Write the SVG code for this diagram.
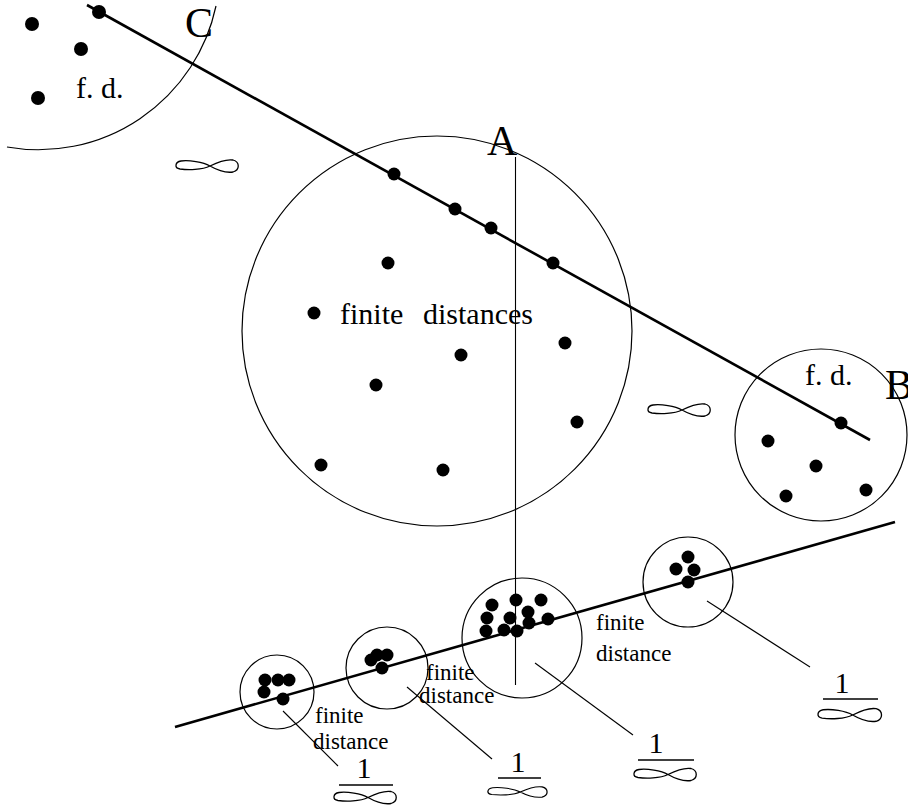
<svg xmlns="http://www.w3.org/2000/svg" xmlns:xlink="http://www.w3.org/1999/xlink" width="908" height="811" viewBox="0 0 908 811">
<style>
.ring{fill:none;stroke:#000;stroke-width:1.2}
.thick{fill:none;stroke:#000;stroke-width:2.6}
.thin{fill:none;stroke:#000;stroke-width:1.1}
.inf{fill:none;stroke:#000;stroke-width:1.3}
.dot{fill:#000}
.big{font-family:"Liberation Serif","Times New Roman",serif;font-size:42px;fill:#000}
.mid{font-family:"Liberation Serif","Times New Roman",serif;font-size:30px;fill:#000}
.sm{font-family:"Liberation Serif","Times New Roman",serif;font-size:23px;fill:#000}
.bar{stroke:#000;stroke-width:1.3}
</style>
<defs>
<path id="inf" class="inf" d="M35,0 C28,-4 14,-6 6,-5 C0,-4 -1,2 5,3 C13,4 27,4 35,0 C43,-4 52,-7 58,-6 C65,-4 65,4 58,6 C51,7 42,4 35,0 Z"/>
</defs>
<rect width="908" height="811" fill="#fff"/>

<g id="connectors">
<line class="thick" x1="87" y1="5" x2="870" y2="440"/>
<line class="thick" x1="175" y1="727" x2="895" y2="522"/>
<line class="thin" x1="515.5" y1="157" x2="515.5" y2="685"/>
<line class="thin" x1="283" y1="711" x2="338" y2="766"/>
<line class="thin" x1="407" y1="687" x2="492" y2="759"/>
<line class="thin" x1="535" y1="663" x2="633" y2="735"/>
<line class="thin" x1="707" y1="601" x2="810" y2="667"/>
</g>

<g id="region-C">
<path class="ring" d="M7,147 A181.7,181.7 0 0 0 216,6"/>
<circle class="dot" cx="32" cy="24" r="7"/>
<circle class="dot" cx="81" cy="49" r="7"/>
<circle class="dot" cx="38" cy="98" r="7"/>
<circle class="dot" cx="99" cy="12" r="7"/>
<text class="mid" x="76" y="98">f. d.</text>
<text class="big" x="185" y="37">C</text>
</g>

<g id="region-A">
<circle class="ring" cx="437" cy="331" r="195"/>
<circle class="dot" cx="394" cy="174" r="6.5"/>
<circle class="dot" cx="455" cy="209" r="6.5"/>
<circle class="dot" cx="491" cy="228" r="6.5"/>
<circle class="dot" cx="553" cy="263" r="6.5"/>
<circle class="dot" cx="388" cy="263" r="6.5"/>
<circle class="dot" cx="314" cy="313" r="6.5"/>
<circle class="dot" cx="461" cy="355" r="6.5"/>
<circle class="dot" cx="565" cy="343" r="6.5"/>
<circle class="dot" cx="376" cy="385" r="6.5"/>
<circle class="dot" cx="577" cy="422" r="6.5"/>
<circle class="dot" cx="321" cy="465" r="6.5"/>
<circle class="dot" cx="443" cy="470" r="6.5"/>
<text class="mid" x="340" y="324">finite<tspan x="423">distances</tspan></text>
<text class="big" x="487" y="155">A</text>
</g>

<g id="region-B">
<circle class="ring" cx="821" cy="435" r="86"/>
<circle class="dot" cx="841" cy="423" r="6.5"/>
<circle class="dot" cx="768" cy="441" r="6.5"/>
<circle class="dot" cx="816" cy="466" r="6.5"/>
<circle class="dot" cx="786" cy="496" r="6.5"/>
<circle class="dot" cx="866" cy="490" r="6.5"/>
<text class="mid" x="805" y="385">f. d.</text>
<text class="big" x="885" y="399">B</text>
</g>

<g id="infinity-1"><use xlink:href="#inf" transform="translate(175,166)"/></g>
<g id="infinity-2"><use xlink:href="#inf" transform="translate(647,410)"/></g>

<g id="cluster-1">
<circle class="ring" cx="277" cy="692" r="37"/>
<circle class="dot" cx="265" cy="680" r="6.5"/>
<circle class="dot" cx="278" cy="680" r="6.5"/>
<circle class="dot" cx="289" cy="680" r="6.5"/>
<circle class="dot" cx="264" cy="692" r="6.5"/>
<circle class="dot" cx="283" cy="699" r="6.5"/>
</g>
<g id="cluster-2">
<circle class="ring" cx="387" cy="668" r="41"/>
<circle class="dot" cx="371" cy="660" r="6.5"/>
<circle class="dot" cx="377" cy="655" r="6.5"/>
<circle class="dot" cx="387" cy="655" r="6.5"/>
<circle class="dot" cx="382" cy="668" r="6.5"/>
</g>
<g id="cluster-3">
<circle class="ring" cx="522" cy="638" r="60"/>
<circle class="dot" cx="492" cy="605" r="6.5"/>
<circle class="dot" cx="516" cy="600" r="6.5"/>
<circle class="dot" cx="541" cy="600" r="6.5"/>
<circle class="dot" cx="487" cy="618" r="6.5"/>
<circle class="dot" cx="510" cy="618" r="6.5"/>
<circle class="dot" cx="528" cy="612" r="6.5"/>
<circle class="dot" cx="548" cy="619" r="6.5"/>
<circle class="dot" cx="486" cy="631" r="6.5"/>
<circle class="dot" cx="504" cy="630" r="6.5"/>
<circle class="dot" cx="517" cy="631" r="6.5"/>
<circle class="dot" cx="529" cy="623" r="6.5"/>
</g>
<g id="cluster-4">
<circle class="ring" cx="688" cy="582" r="45"/>
<circle class="dot" cx="688" cy="557" r="6.5"/>
<circle class="dot" cx="676" cy="569" r="6.5"/>
<circle class="dot" cx="694" cy="570" r="6.5"/>
<circle class="dot" cx="688" cy="582" r="6.5"/>
</g>

<g id="label-finite-1">
<text class="sm" x="315" y="723">finite</text>
<text class="sm" x="313" y="749">distance</text>
</g>
<g id="label-finite-2">
<text class="sm" x="426" y="680">finite</text>
<text class="sm" x="419" y="703">distance</text>
</g>
<g id="label-finite-3">
<text class="sm" x="596" y="630">finite</text>
<text class="sm" x="596" y="661">distance</text>
</g>

<g id="fraction-1">
<text class="mid" x="364" y="778" text-anchor="middle">1</text>
<line class="bar" x1="339" y1="785" x2="393" y2="785"/>
<use xlink:href="#inf" transform="translate(333,797.5)"/>
</g>
<g id="fraction-2">
<text class="mid" x="518" y="772" text-anchor="middle">1</text>
<line class="bar" x1="498" y1="778" x2="541" y2="778"/>
<use xlink:href="#inf" transform="translate(487,792) scale(0.95,0.85)"/>
</g>
<g id="fraction-3">
<text class="mid" x="656" y="753" text-anchor="middle">1</text>
<line class="bar" x1="638" y1="760" x2="694" y2="760"/>
<use xlink:href="#inf" transform="translate(633,774.5)"/>
</g>
<g id="fraction-4">
<text class="mid" x="842" y="693" text-anchor="middle">1</text>
<line class="bar" x1="823" y1="699" x2="878" y2="699"/>
<use xlink:href="#inf" transform="translate(817,715) scale(1.02,1.05)"/>
</g>
</svg>
